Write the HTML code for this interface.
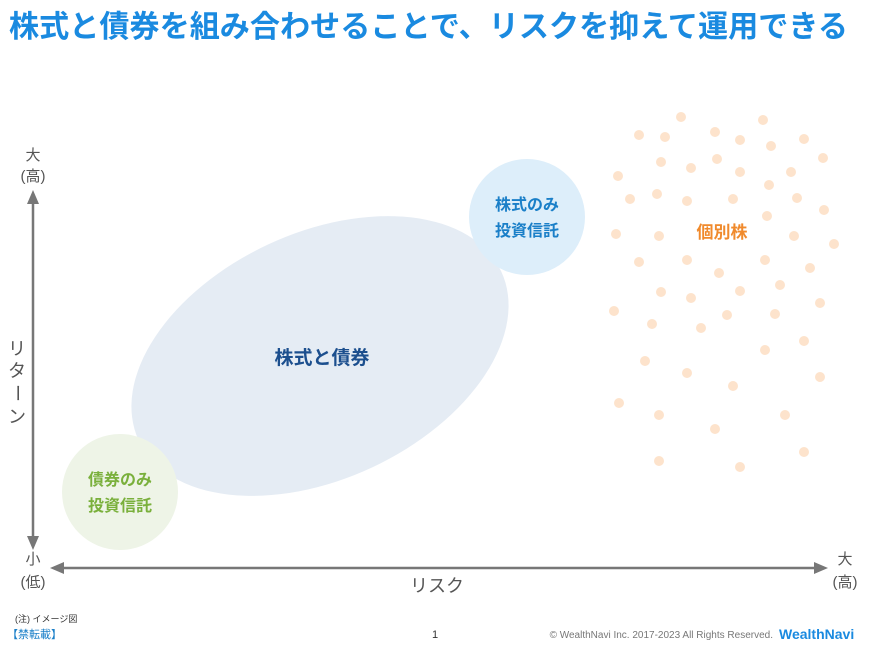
<!DOCTYPE html><html><head><meta charset="utf-8"><style>
body{margin:0;width:870px;height:645px;background:#fff;font-family:"Liberation Sans","Noto Sans CJK JP",sans-serif;overflow:hidden}
</style></head><body>
<svg width="870" height="645" xmlns="http://www.w3.org/2000/svg" style="position:absolute;left:0;top:0" font-family="Liberation Sans, Noto Sans CJK JP, sans-serif">
<text x="9" y="37" font-size="30.5" font-weight="bold" fill="#1a8ae0" textLength="839" lengthAdjust="spacingAndGlyphs">株式と債券を組み合わせることで、リスクを抑えて運用できる</text>
<g fill="#fde3cc">
<circle cx="681" cy="117" r="5"/><circle cx="763" cy="120" r="5"/><circle cx="639" cy="135" r="5"/><circle cx="665" cy="137" r="5"/><circle cx="715" cy="132" r="5"/><circle cx="740" cy="140" r="5"/><circle cx="771" cy="146" r="5"/><circle cx="804" cy="139" r="5"/><circle cx="661" cy="162" r="5"/><circle cx="691" cy="168" r="5"/><circle cx="717" cy="159" r="5"/><circle cx="740" cy="172" r="5"/><circle cx="791" cy="172" r="5"/><circle cx="823" cy="158" r="5"/><circle cx="618" cy="176" r="5"/><circle cx="630" cy="199" r="5"/><circle cx="657" cy="194" r="5"/><circle cx="687" cy="201" r="5"/><circle cx="733" cy="199" r="5"/><circle cx="769" cy="185" r="5"/><circle cx="797" cy="198" r="5"/><circle cx="824" cy="210" r="5"/><circle cx="767" cy="216" r="5"/><circle cx="616" cy="234" r="5"/><circle cx="659" cy="236" r="5"/><circle cx="794" cy="236" r="5"/><circle cx="834" cy="244" r="5"/><circle cx="639" cy="262" r="5"/><circle cx="687" cy="260" r="5"/><circle cx="719" cy="273" r="5"/><circle cx="765" cy="260" r="5"/><circle cx="810" cy="268" r="5"/><circle cx="661" cy="292" r="5"/><circle cx="691" cy="298" r="5"/><circle cx="740" cy="291" r="5"/><circle cx="780" cy="285" r="5"/><circle cx="614" cy="311" r="5"/><circle cx="652" cy="324" r="5"/><circle cx="701" cy="328" r="5"/><circle cx="727" cy="315" r="5"/><circle cx="775" cy="314" r="5"/><circle cx="820" cy="303" r="5"/><circle cx="765" cy="350" r="5"/><circle cx="804" cy="341" r="5"/><circle cx="645" cy="361" r="5"/><circle cx="687" cy="373" r="5"/><circle cx="733" cy="386" r="5"/><circle cx="820" cy="377" r="5"/><circle cx="619" cy="403" r="5"/><circle cx="659" cy="415" r="5"/><circle cx="785" cy="415" r="5"/><circle cx="715" cy="429" r="5"/><circle cx="804" cy="452" r="5"/><circle cx="659" cy="461" r="5"/><circle cx="740" cy="467" r="5"/>
</g>
<text x="722" y="238" font-size="17" font-weight="bold" fill="#f08a2c" text-anchor="middle">個別株</text>
<ellipse cx="320" cy="356" rx="200" ry="123" transform="rotate(-25 320 356)" fill="#e5ecf4"/>
<text x="322" y="364" font-size="19" font-weight="bold" fill="#1c4f8e" text-anchor="middle">株式と債券</text>
<circle cx="527" cy="217" r="58" fill="#ddeefa"/>
<text x="527" y="210" font-size="16" font-weight="bold" fill="#1a7fc8" text-anchor="middle">株式のみ</text>
<text x="527" y="236" font-size="16" font-weight="bold" fill="#1a7fc8" text-anchor="middle">投資信託</text>
<circle cx="120" cy="492" r="58" fill="#eef4e7"/>
<text x="120" y="485" font-size="16" font-weight="bold" fill="#7ab03c" text-anchor="middle">債券のみ</text>
<text x="120" y="511" font-size="16" font-weight="bold" fill="#7ab03c" text-anchor="middle">投資信託</text>
<g stroke="#777" stroke-width="2.5"><line x1="33" y1="200" x2="33" y2="540"/><line x1="60" y1="568" x2="820" y2="568"/></g>
<g fill="#777"><polygon points="33,190 27,204 39,204"/><polygon points="33,550 27,536 39,536"/><polygon points="50,568 64,562 64,574"/><polygon points="828,568 814,562 814,574"/></g>
<g fill="#555" font-size="15" text-anchor="middle">
<text x="33" y="160">大</text><text x="33" y="181">(高)</text>
<text x="33" y="564">小</text><text x="33" y="587">(低)</text>
<text x="845" y="564">大</text><text x="845" y="587">(高)</text>
<text x="437" y="592" font-size="18">リスク</text>
<text x="17" y="355" font-size="18">リ</text><text x="17" y="377" font-size="18">タ</text><text x="17" y="399" font-size="18" transform="rotate(90 17 393)">ー</text><text x="17" y="423" font-size="18">ン</text>
</g>
<text x="15" y="622" font-size="9" fill="#333">(注) イメージ図</text>
<text x="7" y="638" font-size="11" fill="#1a7fc8">【禁転載】</text>
<text x="435" y="638" font-size="11" fill="#333" text-anchor="middle">1</text>
<text x="773" y="638" font-size="10" fill="#777" text-anchor="end">© WealthNavi Inc. 2017-2023 All Rights Reserved.</text>
<text x="779" y="639" font-size="14" font-weight="bold" fill="#1a8ae0">WealthNavi</text>
</svg>
</body></html>
